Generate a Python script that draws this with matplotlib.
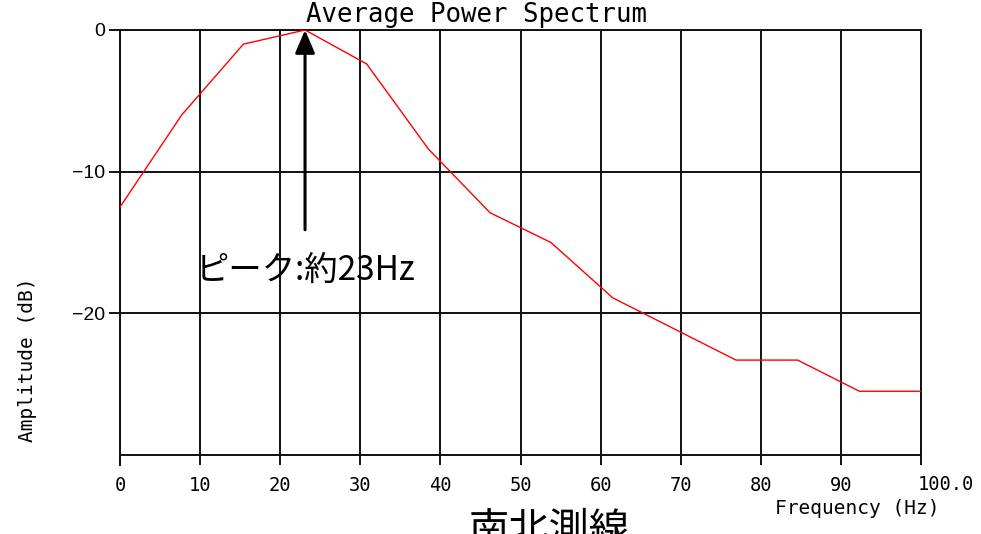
import matplotlib
matplotlib.use("Agg")
import matplotlib.pyplot as plt

# Average power spectrum (south-north survey line)
freq_hz = [0.0, 7.7, 15.4, 23.1, 30.8, 38.5, 46.2, 53.8, 61.5, 69.2, 76.9, 84.6, 92.3, 100.0]
amp_db = [-12.5, -6.0, -1.0, 0.0, -2.4, -8.4, -12.9, -15.0, -18.9, -21.1, -23.3, -23.3, -25.5, -25.5]

x_ticks = [0, 10, 20, 30, 40, 50, 60, 70, 80, 90, 100]
x_tick_labels = ["0", "10", "20", "30", "40", "50", "60", "70", "80", "90", ""]
y_ticks = [-20, -10, 0]
y_tick_labels = ["\u221220", "\u221210", "0"]

peak_hz = 23.1
peak_label = "ピーク:約23Hz"
line_label = "南北測線"

mono = "DejaVu Sans Mono"
jp = ["Noto Sans CJK JP", "DejaVu Sans"]

fig = plt.figure(figsize=(9.81, 5.34), dpi=100)
ax = fig.add_axes([120 / 981, 1 - 455 / 534, 801 / 981, 425 / 534])

ax.plot(freq_hz, amp_db, color="red", lw=1.0, zorder=3)

ax.set_xlim(0, 100)
ax.set_ylim(-30, 0)
ax.set_xticks(x_ticks)
ax.set_xticklabels(x_tick_labels, fontfamily=mono, fontsize=13.5)
ax.set_yticks(y_ticks)
ax.set_yticklabels(y_tick_labels, fontfamily="Liberation Sans", fontsize=14)
ax.tick_params(axis="x", direction="out", length=7, width=1.3, pad=8)
ax.tick_params(axis="y", direction="out", length=8, width=1.3, pad=3)
ax.grid(True, color="#111111", lw=1.4)
for sp in ax.spines.values():
    sp.set_color("#111111")
    sp.set_linewidth(1.4)
ax.spines["left"].set_bounds(-30.7, 0)

# last tick label sits to the right of its tick
ax.text(99.6, -31.4, "100.0", fontfamily=mono, fontsize=13.5, ha="left", va="top")

fig.text(477 / 981, 1 - 15 / 534, "Average Power Spectrum", fontfamily=mono,
         fontsize=18.5, ha="center", va="center")
fig.text(857 / 981, 1 - 508 / 534, "Frequency (Hz)", fontfamily=mono,
         fontsize=14, ha="center", va="center")
fig.text(28 / 981, 1 - 360 / 534, "Amplitude (dB)", fontfamily=mono,
         fontsize=14, ha="center", va="center", rotation=90)

# peak annotation
ax.annotate("", xy=(peak_hz, 0), xytext=(peak_hz, -14.1),
            arrowprops=dict(arrowstyle="-|>,head_length=0.7,head_width=0.3",
                            mutation_scale=20, color="black", lw=2.2,
                            shrinkA=0, shrinkB=0), zorder=4)
ax.text(9.5, -17.0, peak_label, fontfamily=jp, fontsize=24,
        ha="left", va="center", zorder=5)

fig.text(549 / 981, 1 - 510 / 534, line_label, fontfamily=jp, fontsize=29,
         ha="center", va="top")

fig.savefig("out.png", dpi=100)
